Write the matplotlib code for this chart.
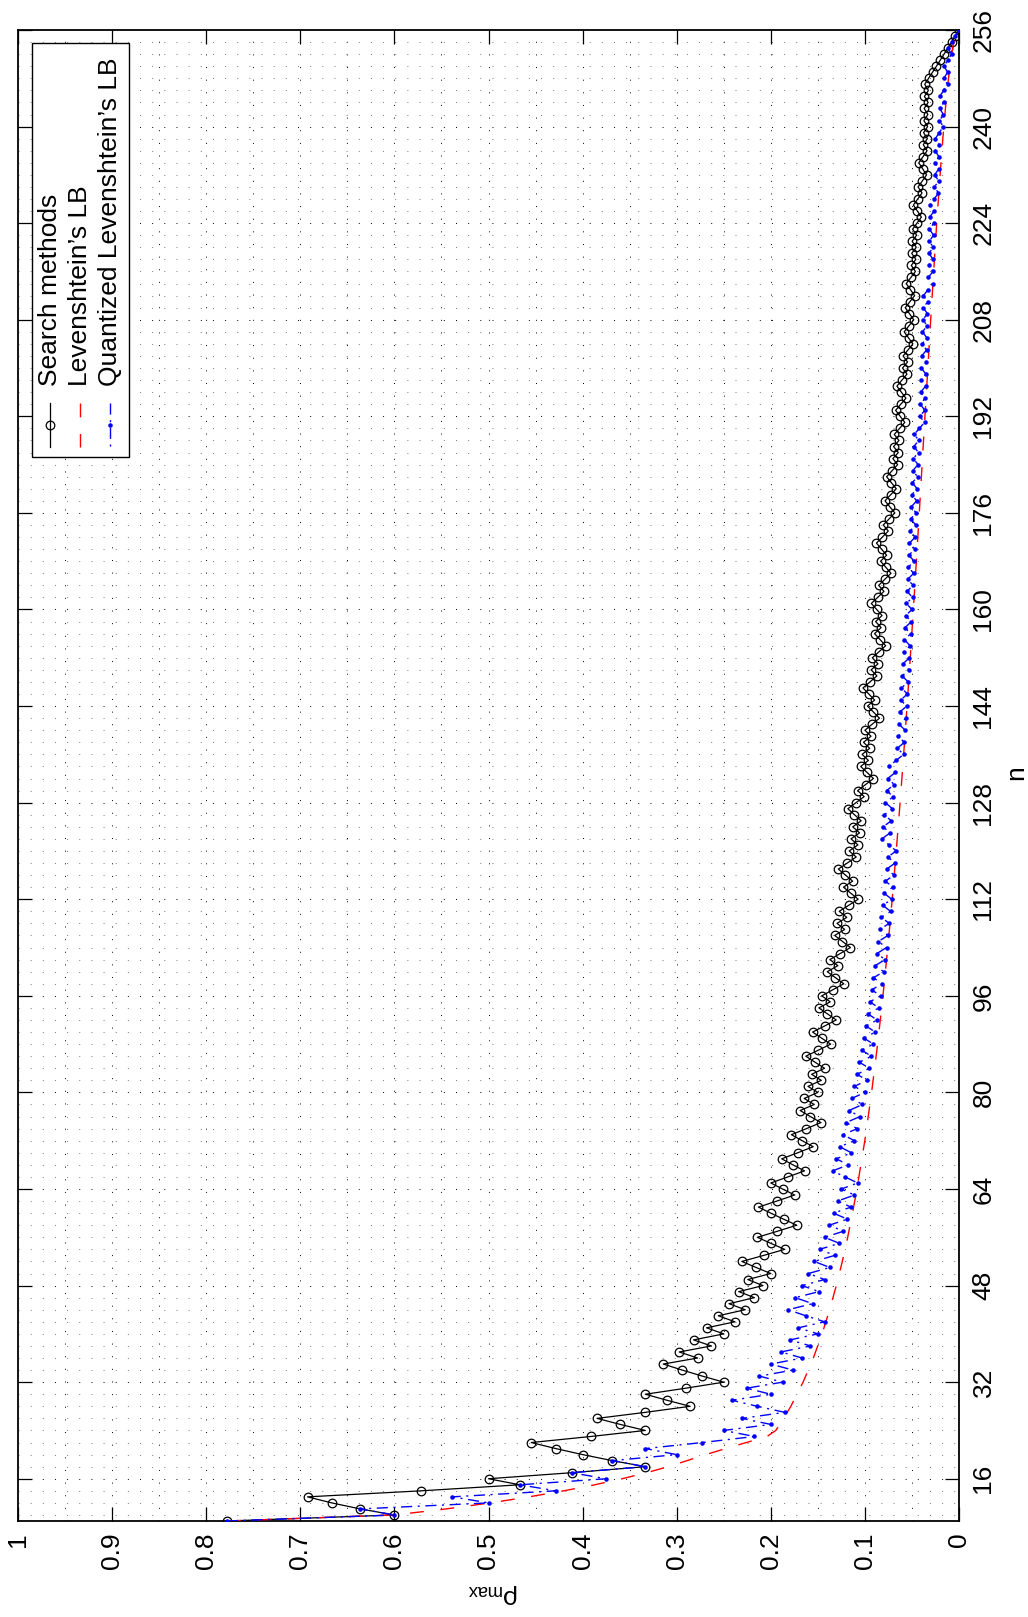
import matplotlib
matplotlib.use("Agg")
import matplotlib.pyplot as plt
from matplotlib.lines import Line2D
from matplotlib.patches import Rectangle
import numpy as np

plt.rcParams["font.family"] = ["Liberation Sans", "DejaVu Sans"]
plt.rcParams["mathtext.fontset"] = "custom"
plt.rcParams["mathtext.rm"] = "Liberation Sans"
plt.rcParams["mathtext.it"] = "Liberation Sans"

# sequence length n = 9 .. 256
N_START, N_END = 9, 256

SEARCH_C = [
    7, 6, 7, 8, 9, 8, 7, 8, 7, 6,          # 9-18
    7, 8, 9, 10, 9, 8, 9, 10, 9, 8,        # 19-28
    9, 10, 9, 8, 9, 10, 11, 10, 11, 10,    # 29-38
    11, 10, 11, 10, 11, 10, 11, 10, 11, 10,  # 39-48
    11, 10, 11, 12, 11, 10, 11, 12, 11, 10,  # 49-58
    11, 12, 13, 12, 11, 12, 13, 12, 11, 12,  # 59-68
    13, 12, 11, 12, 13, 12, 11, 12, 13, 12,  # 69-78
    13, 12, 13, 12, 13, 12, 13, 14, 13, 12,  # 79-88
    13, 14, 13, 12, 13, 14, 13, 14, 13, 12,  # 89-98
    13, 14, 13, 14, 13, 12, 13, 14, 13, 14,  # 99-108
    13, 14, 13, 12, 13, 14, 13, 14, 15, 14,  # 109-118
    13, 14, 13, 14, 13, 14, 13, 14, 15, 14,  # 119-128
    13, 14, 13, 12, 13, 14, 13, 14, 13, 14,  # 129-138
    13, 14, 13, 12, 13, 14, 13, 14, 15, 14,  # 139-148
    13, 14, 13, 14, 13, 12, 13, 14, 13, 14,  # 149-158
    13, 14, 15, 14, 13, 14, 13, 12, 13, 14,  # 159-168
    13, 14, 15, 14, 13, 14, 13, 12, 13, 14,  # 169-178
    13, 12, 13, 14, 13, 12, 13, 12, 13, 12,  # 179-188
    13, 12, 11, 12, 13, 12, 11, 12, 13, 12,  # 189-198
    11, 12, 11, 12, 11, 10, 11, 12, 11, 10,  # 199-208
    11, 12, 11, 10, 11, 12, 11, 10, 11, 10,  # 209-218
    11, 10, 11, 10, 11, 10, 9, 10, 11, 10,   # 219-228
    9, 10, 9, 8, 9, 10, 9, 8, 9, 8,          # 229-238
    9, 8, 9, 8, 9, 8, 9, 8, 9, 8,            # 239-248
    7, 6, 5, 4, 3, 2, 1, 0,                  # 249-256
]

# quantized Levenshtein bound: integer numerator per n
QUANT_C = [
    7, 6, 7, 6, 7, 6, 7, 6, 7, 6,    # 9-18
    7, 6, 7, 6, 5, 6, 5, 6, 5, 6,    # 19-28
    7, 6, 7, 6, 7, 6, 7, 6, 7, 6,    # 29-38
    7, 6, 7, 6, 7, 8, 7, 8, 7, 8,    # 39-48
    7, 8, 7, 8, 7, 8, 7, 8, 7, 8,    # 49-58
    7, 8, 7, 8, 7, 8, 7, 8, 9, 8,    # 59-68
    9, 8, 9, 8, 9, 8, 9, 8, 9, 8,    # 69-78
    9, 8, 9, 8, 9, 8, 9, 8, 9, 8,    # 79-88
    9, 8, 9, 8, 9, 8, 9, 8, 9, 8,    # 89-98
    9, 8, 9, 8, 9, 8, 9, 8, 9, 8,    # 99-108
    9, 8, 9, 8, 9, 8, 9, 8, 9, 8,    # 109-118
    9, 8, 9, 10, 9, 10, 9, 10, 9, 10,  # 119-128
    9, 10, 9, 10, 9, 10, 9, 8, 9, 8,   # 129-138
    9, 8, 9, 8, 9, 8, 9, 8, 9, 8,    # 139-148
    9, 8, 9, 8, 9, 8, 9, 8, 9, 8,    # 149-158
    9, 8, 9, 8, 9, 8, 9, 8, 9, 8,    # 159-168
    9, 8, 9, 8, 9, 8, 9, 8, 9, 8,    # 169-178
    9, 8, 9, 8, 9, 8, 9, 8, 9, 8,    # 179-188
    9, 8, 7, 8, 7, 8, 7, 8, 7, 8,    # 189-198
    7, 8, 7, 8, 7, 8, 7, 8, 7, 8,    # 199-208
    7, 8, 7, 8, 7, 6, 7, 6, 7, 6,    # 209-218
    7, 6, 7, 6, 7, 6, 7, 6, 7, 6,    # 219-228
    5, 6, 5, 6, 5, 6, 5, 6, 5, 6,    # 229-238
    5, 4, 5, 4, 5, 4, 5, 4, 3, 4,    # 239-248
    3, 4, 3, 2, 3, 2, 1, 0,          # 249-256
]

# Levenshtein's lower bound (smooth curve)
LEV_N = [9, 10, 11, 12, 13, 14, 15, 16, 17, 18, 19, 20, 21, 22, 23, 24,
         26, 28, 32, 36, 40, 44, 48, 52, 56, 60, 64, 72, 80, 88, 96, 104,
         112, 120, 128, 136, 144, 152, 160, 168, 176, 184, 192, 200, 208,
         216, 224, 232, 240, 246, 250, 253, 255, 256]
LEV_RHO = [0.778, 0.600, 0.545, 0.498, 0.457, 0.420, 0.387, 0.358, 0.332,
           0.309, 0.289, 0.269, 0.248, 0.226, 0.204, 0.1947, 0.1863, 0.1787,
           0.1657, 0.1548, 0.1455, 0.1375, 0.1304, 0.1240, 0.1183, 0.1132,
           0.1085, 0.1001, 0.0929, 0.0865, 0.0808, 0.0757, 0.0710, 0.0667,
           0.0626, 0.0588, 0.0552, 0.0518, 0.0485, 0.0453, 0.0422, 0.0392,
           0.0362, 0.0331, 0.0301, 0.0269, 0.0237, 0.0201, 0.0162, 0.0126,
           0.0097, 0.0068, 0.0039, 0.0]

LEGEND_LABELS = ["Search methods", "Levenshtein\u2019s LB",
                 "Quantized Levenshtein\u2019s LB"]
RHO_TICKS = [0, 0.1, 0.2, 0.3, 0.4, 0.5, 0.6, 0.7, 0.8, 0.9, 1]
RHO_TICK_LABELS = ["0", "0.1", "0.2", "0.3", "0.4", "0.5", "0.6", "0.7",
                   "0.8", "0.9", "1"]
N_TICKS = [16, 32, 48, 64, 80, 96, 112, 128, 144, 160, 176, 192, 208, 224,
           240, 256]

W, H = 1028, 1617
FS = 19
BLUE_DASH = (0, (8, 4, 1.5, 4))
RED_DASH = (0, (10, 12))


def fx(x):
    return x / W


def fy(y):
    return 1 - y / H


n = np.arange(N_START, N_END + 1)
rho_search = np.array(SEARCH_C) / n
rho_quant = np.array(QUANT_C) / n

fig = plt.figure(figsize=(W / 100, H / 100), dpi=100)
ax = fig.add_axes([fx(18), fy(1521), 941 / W, 1491 / H])

# dotted grid (the page is rotated: rho runs right-to-left, n bottom-to-top)
for v in np.arange(0.05, 0.999, 0.05):
    ax.axvline(v, color="k", lw=0.7, ls=(0, (1, 12)), zorder=1)
for g in range(10, 256, 2):
    col = "k" if g % 16 == 0 else "#777777"
    ax.axhline(g, color=col, lw=0.7, ls=(0, (1, 11.5)), zorder=1)

ax.plot(rho_search, n, color="k", lw=0.9, marker="o", ms=6.2,
        mfc="none", mec="k", mew=0.9, zorder=3)
ax.plot(LEV_RHO, LEV_N, color="red", lw=1.0, ls=RED_DASH, zorder=4)
ax.plot(rho_quant, n, color="blue", lw=1.0, ls=BLUE_DASH,
        marker=".", ms=4.5, zorder=5)

ax.set_xlim(1, 0)
ax.set_ylim(N_START, N_END)
ax.set_xticks(RHO_TICKS)
ax.set_xticklabels(RHO_TICK_LABELS)
ax.set_yticks(N_TICKS)
ax.set_yticklabels([str(t) for t in N_TICKS])
ax.tick_params(axis="both", direction="in", length=10, width=0.9,
               labelsize=FS, top=True, bottom=True, left=True, right=True,
               labelleft=False, labelright=True)
ax.tick_params(axis="x", labelrotation=90, pad=8)
ax.tick_params(axis="y", labelrotation=90, pad=9)
for t in ax.yaxis.get_major_ticks():
    t.label2.set_va("center")
for sp in ax.spines.values():
    sp.set_linewidth(1.3)

fig.text(fx(1016), fy(773), "n", rotation=90, ha="center", va="center",
         fontsize=FS)
fig.text(fx(493), fy(1594), r"$\rho_{max}$", rotation=180, ha="center",
         va="center", fontsize=FS)

# legend, drawn rotated like the rest of the page
fig.add_artist(Rectangle((fx(32), fy(457)), (129 - 32) / W, (457 - 43) / H,
                         transform=fig.transFigure, fc="white", ec="black",
                         lw=1.0, zorder=10))
rows_x = [50, 80, 110]
for xi, label in zip(rows_x, LEGEND_LABELS):
    fig.text(fx(xi), fy(386), label, rotation=90, ha="center", va="bottom",
             fontsize=FS, zorder=11)
fig.add_artist(Line2D([fx(50), fx(50)], [fy(403), fy(447)],
                      transform=fig.transFigure, color="k", lw=0.9,
                      zorder=11))
fig.add_artist(Line2D([fx(50)], [fy(425)], transform=fig.transFigure,
                      marker="o", ms=6.2, mfc="none", mec="k", mew=0.9,
                      zorder=12))
fig.add_artist(Line2D([fx(80), fx(80)], [fy(403), fy(447)],
                      transform=fig.transFigure, color="red", lw=1.0,
                      ls=RED_DASH, zorder=11))
fig.add_artist(Line2D([fx(110), fx(110)], [fy(403), fy(447)],
                      transform=fig.transFigure, color="blue", lw=1.0,
                      ls=BLUE_DASH, zorder=11))
fig.add_artist(Line2D([fx(110)], [fy(425)], transform=fig.transFigure,
                      marker=".", ms=4.5, color="blue", zorder=12))

fig.savefig("out.png", dpi=100)
